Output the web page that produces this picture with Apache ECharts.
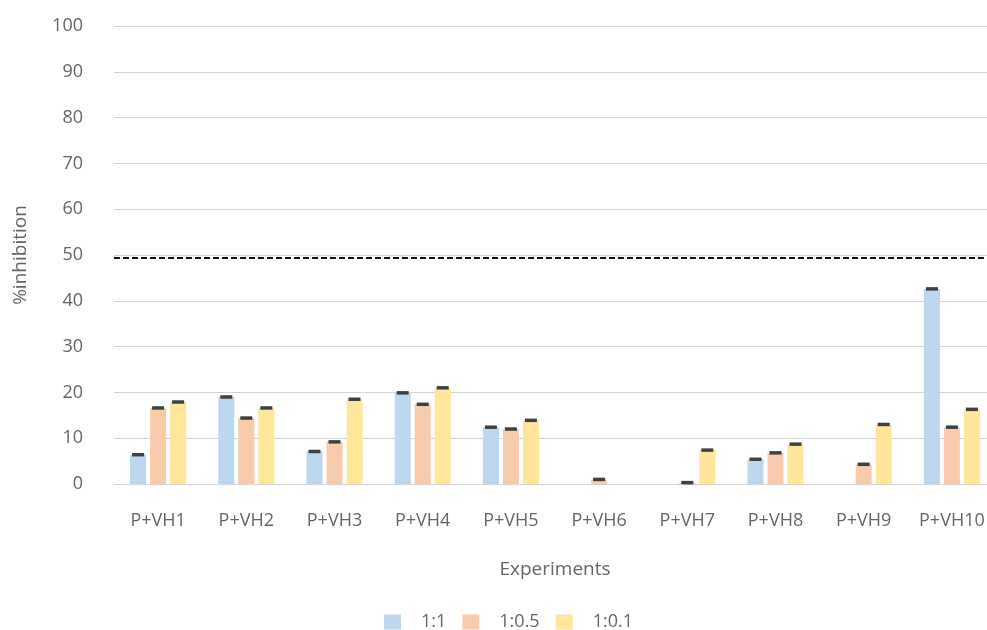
<!DOCTYPE html>
<html>
<head>
<meta charset="utf-8">
<script src="https://cdn.jsdelivr.net/npm/echarts@6/dist/echarts.min.js"></script>
<style>
  html, body { margin: 0; padding: 0; background: #fff; overflow: hidden; }
  #chart { width: 996px; height: 630px; }
</style>
</head>
<body>
<div id="chart"></div>
<script>
// Inhibition per experiment at three ratios
const categories = ['P+VH1', 'P+VH2', 'P+VH3', 'P+VH4', 'P+VH5', 'P+VH6', 'P+VH7', 'P+VH8', 'P+VH9', 'P+VH10'];
const seriesNames = ['1:1', '1:0.5', '1:0.1'];
const ratio1to1 = [6.4, 19.0, 7.1, 19.9, 12.4, 0, 0, 5.4, 0, 42.6];
const ratio1to05 = [16.6, 14.4, 9.2, 17.4, 12.0, 1.0, 0.3, 6.8, 4.3, 12.4];
const ratio1to01 = [17.9, 16.6, 18.5, 21.0, 13.9, 0, 7.4, 8.7, 13.0, 16.3];
const threshold = 49.3;
const yTicks = [0, 10, 20, 30, 40, 50, 60, 70, 80, 90, 100];

const colors = ['#BDD7EE', '#F8CBAD', '#FFE699'];
const allValues = [ratio1to1, ratio1to05, ratio1to01];
const textColor = '#666666';
const fontFamily = '"Open Sans", "Noto Sans", sans-serif';

const BAR_W = 16;
const BAR_STEP = 20; // bar width plus gap
const CAP_W = 12;
const CAP_H = 3.5;

// Dark caps sitting on each bar top
const capData = [];
allValues.forEach((arr, s) => arr.forEach((v, i) => {
  if (v > 0) capData.push([i, v, s]);
}));

const barSeries = allValues.map((arr, s) => ({
  name: seriesNames[s],
  type: 'bar',
  data: arr,
  barWidth: BAR_W,
  barGap: '25%',
  itemStyle: { color: colors[s] },
  emphasis: { disabled: true },
  z: 2
}));

const chart = echarts.init(document.getElementById('chart'), null, { renderer: 'canvas' });
chart.setOption({
  animation: false,
  backgroundColor: '#ffffff',
  grid: { left: 114, top: 26, right: 0, height: 458, containLabel: false },
  legend: {
    data: seriesNames,
    top: 611,
    left: 384,
    padding: 0,
    icon: 'rect',
    itemWidth: 17,
    itemHeight: 15,
    itemGap: 16,
    textStyle: { color: textColor, fontSize: 18, lineHeight: 22, fontFamily, padding: [0, 0, 0, 15] }
  },
  xAxis: {
    type: 'category',
    data: categories,
    name: 'Experiments',
    nameLocation: 'middle',
    nameGap: 76,
    nameTextStyle: { color: textColor, fontSize: 19, fontFamily },
    axisLine: { show: true, lineStyle: { color: '#d4d4d4', width: 1 } },
    axisTick: { show: false },
    axisLabel: { color: textColor, fontSize: 18, fontFamily, margin: 28 }
  },
  yAxis: {
    type: 'value',
    min: yTicks[0],
    max: yTicks[yTicks.length - 1],
    interval: 10,
    name: '%inhibition',
    nameLocation: 'middle',
    nameGap: 84,
    nameRotate: 90,
    nameTextStyle: { color: textColor, fontSize: 19, fontFamily },
    axisLine: { show: false },
    axisTick: { show: false },
    axisLabel: { color: textColor, fontSize: 18, fontFamily, margin: 31 },
    splitLine: { lineStyle: { color: '#d4d4d4', width: 1 } }
  },
  series: [
    ...barSeries,
    {
      type: 'custom',
      name: 'caps',
      data: capData,
      z: 5,
      silent: true,
      renderItem: function (params, api) {
        const cat = api.value(0);
        const val = api.value(1);
        const s = api.value(2);
        const pt = api.coord([cat, val]);
        const x = pt[0] + (s - 1) * BAR_STEP;
        return {
          type: 'rect',
          shape: { x: x - CAP_W / 2, y: pt[1] - CAP_H / 2, width: CAP_W, height: CAP_H },
          style: { fill: '#404040' }
        };
      }
    },
    {
      type: 'line',
      name: 'threshold',
      data: [],
      markLine: {
        silent: true,
        symbol: 'none',
        label: { show: false },
        lineStyle: { color: '#111111', type: [6, 3], width: 2 },
        data: [{ yAxis: threshold }]
      }
    }
  ]
});
</script>
</body>
</html>
